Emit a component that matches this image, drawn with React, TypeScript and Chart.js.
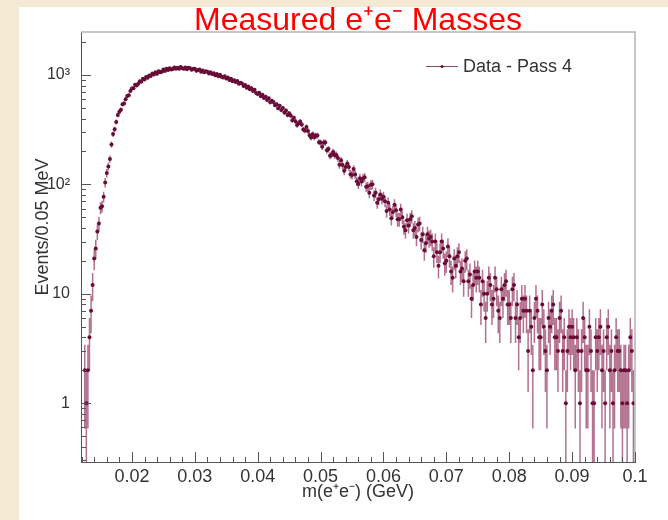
import React, { useEffect, useRef } from 'react';
import { Chart, registerables } from 'chart.js';

Chart.register(...registerables);

// Histogram: e+e- invariant mass, bin centres start at 12.5 MeV, one sample every 0.25 MeV
const MASS_START_GEV = 0.0125;
const MASS_STEP_GEV = 0.00025;

// Events per 0.05 MeV bin
const COUNTS: number[] = [
  2, 1, 2, 4, 7, 12, 21, 26, 37, 44,
  61, 63, 77, 104, 127, 146, 171, 231, 288, 319,
  372, 431, 462, 481, 539, 548, 601, 641, 653, 714,
  751, 758, 812, 803, 829, 878, 869, 921, 911, 957,
  944, 991, 978, 1031, 1009, 1056, 1024, 1079, 1061, 1070,
  1121, 1089, 1137, 1108, 1149, 1120, 1131, 1170, 1139, 1162,
  1141, 1183, 1150, 1137, 1171, 1128, 1163, 1149, 1117, 1141,
  1138, 1094, 1112, 1119, 1072, 1097, 1058, 1081, 1069, 1031,
  1057, 1021, 1036, 994, 1018, 975, 1003, 962, 949, 972,
  928, 947, 901, 921, 878, 896, 861, 881, 833, 850,
  837, 794, 811, 765, 783, 741, 758, 713, 731, 683,
  671, 689, 640, 659, 617, 633, 590, 611, 562, 581,
  567, 529, 541, 497, 522, 478, 499, 455, 473, 431,
  447, 425, 386, 407, 378, 348, 360, 375, 353, 318,
  311, 335, 308, 281, 268, 287, 270, 279, 280, 243,
  242, 221, 242, 241, 205, 210, 183, 187, 198, 185,
  186, 174, 151, 166, 150, 133, 144, 155, 144, 124,
  122, 138, 123, 107, 101, 114, 106, 113, 116, 95,
  96, 84, 99, 100, 79, 84, 68, 73, 81, 74,
  77, 70, 57, 68, 59, 49, 56, 65, 58, 48,
  48, 59, 50, 41, 38, 47, 42, 48, 51, 38,
  40, 33, 43, 44, 31, 35, 25, 29, 35, 32,
  33, 30, 22, 30, 24, 18, 24, 30, 26, 19,
  20, 27, 22, 16, 14, 21, 18, 22, 24, 16,
  17, 13, 20, 21, 13, 15, 9, 12, 16, 14,
  16, 14, 8, 13, 10, 6, 10, 14, 12, 8,
  9, 14, 11, 7, 6, 11, 9, 12, 13, 8,
  8, 6, 11, 12, 6, 8, 4, 6, 9, 7,
  9, 7, 3, 7, 5, 2, 6, 9, 7, 4,
  4, 8, 5, 3, 2, 6, 5, 7, 8, 4,
  4, 3, 6, 7, 3, 4, 1, 3, 5, 4,
  5, 4, 2, 4, 3, 1, 3, 6, 4, 2,
  2, 5, 3, 1, 1, 4, 3, 4, 5, 2,
  3, 1, 4, 5, 2, 3, 1, 2, 4, 3,
  3, 2, 1, 2, 2, 1, 2, 4, 3, 1,
];

const MASSES: number[] = COUNTS.map((_, i) => +(MASS_START_GEV + i * MASS_STEP_GEV).toFixed(6));

const X_TICKS = [0.02, 0.03, 0.04, 0.05, 0.06, 0.07, 0.08, 0.09, 0.1];
const X_TICK_LABELS = ['0.02', '0.03', '0.04', '0.05', '0.06', '0.07', '0.08', '0.09', '0.1'];
const X_MINOR_STEP = 0.002;
const Y_TICKS = [1, 10, 100, 1000];
const Y_TICK_LABELS = ['1', '10', '10\u00B2', '10\u00B3'];
const DECADES = [0.1, 1, 10, 100, 1000];

const TITLE = 'Measured e\u207Ae\u207B Masses';
const X_TITLE = 'm(e\u207Ae\u207B) (GeV)';
const Y_TITLE = 'Events/0.05 MeV';
const SERIES_LABEL = 'Data - Pass 4';

const POINT_COLOR = '#690d38';
const ERR_COLOR = 'rgba(130, 26, 74, 0.62)';
const TEXT_COLOR = '#333333';
const FONT = "'Liberation Sans', Arial, sans-serif";
const FS = 18;

const errorBars = {
  id: 'errorBars',
  beforeDatasetsDraw(chart: any) {
    const { ctx, chartArea: a, scales } = chart;
    const x = scales.x, y = scales.y;
    ctx.save();
    ctx.beginPath();
    ctx.rect(a.left, a.top, a.right - a.left, a.bottom - a.top);
    ctx.clip();
    ctx.strokeStyle = ERR_COLOR;
    ctx.lineWidth = 1.5;
    ctx.beginPath();
    for (const p of chart.data.datasets[0].data) {
      const e = Math.sqrt(p.y);
      const lo = Math.max(p.y - e, y.min);
      const px = x.getPixelForValue(p.x);
      ctx.moveTo(px, y.getPixelForValue(lo));
      ctx.lineTo(px, y.getPixelForValue(p.y + e));
    }
    ctx.stroke();
    ctx.restore();
  },
};

const frameTicks = {
  id: 'frameTicks',
  afterDraw(chart: any) {
    const { ctx, chartArea: a, scales } = chart;
    const x = scales.x, y = scales.y;
    ctx.save();
    ctx.strokeStyle = '#b4b4b4';
    ctx.lineWidth = 1.5;
    ctx.beginPath();
    ctx.moveTo(a.left, a.top);
    ctx.lineTo(a.right, a.top);
    ctx.lineTo(a.right, a.bottom);
    ctx.stroke();

    ctx.strokeStyle = '#555555';
    ctx.lineWidth = 1;
    ctx.beginPath();
    const n = Math.round(x.max / X_MINOR_STEP);
    for (let k = 1; k <= n; k++) {
      const v = k * X_MINOR_STEP;
      if (v < x.min) continue;
      const px = Math.round(x.getPixelForValue(v)) + 0.5;
      const len = k % 5 === 0 ? 10 : 5;
      ctx.moveTo(px, a.bottom);
      ctx.lineTo(px, a.bottom - len);
    }
    for (const d of DECADES) {
      for (let m = 1; m <= 9; m++) {
        const v = m * d;
        if (v < y.min || v > y.max) continue;
        const py = Math.round(y.getPixelForValue(v)) + 0.5;
        const len = m === 1 ? 10 : 5;
        ctx.moveTo(a.left, py);
        ctx.lineTo(a.left + len, py);
      }
    }
    ctx.stroke();

    // legend
    const ds = chart.data.datasets[0];
    const lx = a.left + 345, ly = a.top + 34;
    ctx.strokeStyle = '#8a4a66';
    ctx.lineWidth = 1;
    ctx.beginPath();
    ctx.moveTo(lx, ly + 0.5);
    ctx.lineTo(lx + 32, ly + 0.5);
    ctx.stroke();
    ctx.fillStyle = POINT_COLOR;
    ctx.beginPath();
    ctx.arc(lx + 16, ly + 0.5, 1.6, 0, Math.PI * 2);
    ctx.fill();
    ctx.fillStyle = TEXT_COLOR;
    ctx.font = `${FS}px ${FONT}`;
    ctx.textBaseline = 'middle';
    ctx.textAlign = 'left';
    ctx.fillText(ds.label, lx + 37, ly + 1);
    ctx.restore();
  },
};

export default function App() {
  const ref = useRef<HTMLCanvasElement | null>(null);

  useEffect(() => {
    if (!ref.current) return;
    const data = MASSES.map((m, i) => ({ x: m, y: COUNTS[i] }));
    const chart = new Chart(ref.current, {
      type: 'scatter',
      data: {
        datasets: [
          {
            label: SERIES_LABEL,
            data,
            pointRadius: 2,
            pointBackgroundColor: POINT_COLOR,
            pointBorderWidth: 0,
            showLine: false,
          },
        ],
      },
      options: {
        animation: false,
        responsive: false,
        events: [],
        layout: { padding: { left: 0, right: 33, top: 0, bottom: 0 } },
        plugins: {
          legend: { display: false },
          tooltip: { enabled: false },
          title: {
            display: true,
            text: TITLE,
            fullSize: false,
            color: '#ff0000',
            font: { family: FONT, size: 32, weight: 'normal', lineHeight: 0.75 },
            padding: { top: 9, bottom: -1 },
          },
        },
        scales: {
          x: {
            type: 'linear',
            min: 0.0119,
            max: 0.1,
            grid: { display: false },
            border: { display: true, color: '#555555', width: 1 },
            afterBuildTicks: (s: any) => {
              s.ticks = X_TICKS.map((v) => ({ value: v }));
            },
            afterFit: (s: any) => {
              s.height = 58;
            },
            ticks: {
              autoSkip: false,
              maxRotation: 0,
              padding: -4,
              color: TEXT_COLOR,
              font: { family: FONT, size: FS },
              callback: (v: any) => {
                const i = X_TICKS.findIndex((t) => Math.abs(t - v) < 1e-9);
                return i >= 0 ? X_TICK_LABELS[i] : '';
              },
            },
            title: {
              display: true,
              text: X_TITLE,
              color: TEXT_COLOR,
              font: { family: FONT, size: FS },
              padding: { top: 0, bottom: 17 },
            },
          },
          y: {
            type: 'logarithmic',
            min: 0.29,
            max: 2470,
            grid: { display: false },
            border: { display: true, color: '#555555', width: 1 },
            afterBuildTicks: (s: any) => {
              s.ticks = Y_TICKS.map((v) => ({ value: v }));
            },
            afterFit: (s: any) => {
              s.width = 81;
            },
            ticks: {
              autoSkip: false,
              padding: 3,
              color: TEXT_COLOR,
              font: { family: FONT, size: 16 },
              callback: (v: any) => {
                const i = Y_TICKS.findIndex((t) => Math.abs(t - v) < 1e-6);
                return i >= 0 ? Y_TICK_LABELS[i] : '';
              },
            },
            title: {
              display: true,
              text: '        ' + Y_TITLE,
              color: TEXT_COLOR,
              font: { family: FONT, size: FS },
              padding: { top: 32, bottom: 0 },
            },
          },
        },
      },
      plugins: [errorBars, frameTicks],
    });
    return () => chart.destroy();
  }, []);

  return (
    <div
      style={{
        position: 'fixed',
        left: 0,
        top: 0,
        width: 668,
        height: 520,
        background: '#f4ead3',
        overflow: 'hidden',
      }}
    >
      <div
        style={{
          position: 'absolute',
          left: 19,
          top: 7,
          right: 0,
          bottom: 0,
          background: '#ffffff',
        }}
      />
      <canvas
        ref={ref}
        width={668}
        height={520}
        style={{ position: 'absolute', left: 0, top: 0, width: 668, height: 520 }}
      />
    </div>
  );
}
